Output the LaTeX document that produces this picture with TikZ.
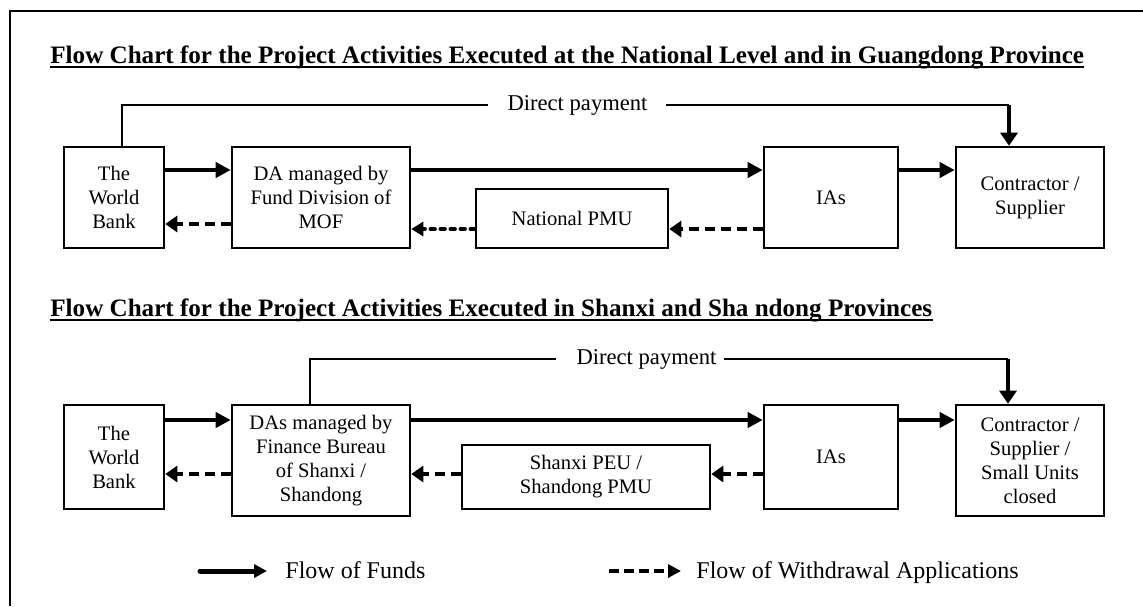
\documentclass[tikz,border=0pt]{standalone}
\usepackage{fontspec}
\setmainfont{Liberation Serif}
\usetikzlibrary{arrows.meta}

\begin{document}
\begin{tikzpicture}[x=0.5pt,y=-0.5pt,
    box/.style={draw,line width=1.3pt,align=center,inner sep=2pt,
      font=\fontsize{10.3}{12}\selectfont},
    fund/.style={line width=2pt,-{Triangle[length=7.5pt,width=7.5pt]}},
    drop/.style={line width=2pt,-{Triangle[length=6.5pt,width=8.5pt]}},
    wdraw/.style={line width=2pt,dash pattern=on 5pt off 3pt,
      -{Triangle[length=6pt,width=8pt]}},
    dotdraw/.style={line width=2.2pt,dash pattern=on 2pt off 3pt,line cap=round,
      -{Triangle[length=6pt,width=7pt]}},
    pay/.style={line width=1pt},
    paytext/.style={font=\fontsize{11.3}{13}\selectfont,inner sep=0pt},
    heading/.style={font=\bfseries\fontsize{12.55}{14}\selectfont,anchor=base west,inner sep=0pt},
    keytext/.style={font=\fontsize{12}{14}\selectfont,anchor=base west,inner sep=0pt}]
  \useasboundingbox (0,0) rectangle (1143,606);
  \draw[line width=1.3pt] (10,606) -- (10,11) -- (1143,11);

  % national level and Guangdong
  \node[heading] (head1) at (50,63)
    {Flow Chart for the Project Activities Executed at the National Level and in Guangdong Province};
  \draw[line width=1pt] ([yshift=-1.8pt]head1.base west) -- ([yshift=-1.8pt]head1.base east);

  \node[box,minimum width=50pt,minimum height=50.5pt] (wb1) at (114,197.5) {The\\World\\Bank};
  \node[box,minimum width=89pt,minimum height=50.5pt] (da1) at (321,197.5)
    {DA managed by\\Fund Division of\\MOF};
  \node[box,minimum width=96pt,minimum height=29.5pt] (pmu1) at (572,218.5) {National PMU};
  \node[box,minimum width=67pt,minimum height=50.5pt] (ia1) at (831,197.5) {IAs};
  \node[box,minimum width=74pt,minimum height=50.5pt] (cs1) at (1030,197.5)
    {Contractor /\\Supplier};

  \coordinate (fund1) at (0,170);
  \coordinate (back1) at (0,224);
  \coordinate (back1b) at (0,229);
  \draw[fund] (wb1.east |- fund1) -- (da1.west |- fund1);
  \draw[fund] (da1.east |- fund1) -- (ia1.west |- fund1);
  \draw[fund] (ia1.east |- fund1) -- (cs1.west |- fund1);
  \draw[wdraw] (da1.west |- back1) -- (wb1.east |- back1);
  \draw[dotdraw] (pmu1.west |- back1b) -- (da1.east |- back1b);
  \draw[wdraw] (ia1.west |- back1b) -- (pmu1.east |- back1b);

  \node[paytext] (pay1) at (577.5,105) {Direct payment};
  \coordinate (turn1) at (1009,105);
  \draw[pay] ([xshift=4pt]wb1.north) |- ([xshift=-9.5pt]pay1.west);
  \draw[pay] ([xshift=9pt]pay1.east) -- (turn1);
  \draw[drop] (turn1) -- (turn1 |- cs1.north);

  % Shanxi and Shandong
  \node[heading] (head2) at (50,316)
    {Flow Chart for the Project Activities Executed in Shanxi and Sha ndong Provinces};
  \draw[line width=1pt] ([yshift=-1.8pt]head2.base west) -- ([yshift=-1.8pt]head2.base east);

  \node[box,minimum width=50pt,minimum height=52pt] (wb2) at (114,457) {The\\World\\Bank};
  \node[box,minimum width=89pt,minimum height=55.5pt] (da2) at (321,460.5)
    {DAs managed by\\Finance Bureau\\of Shanxi /\\Shandong};
  \node[box,minimum width=124pt,minimum height=32pt] (peu2) at (586,477)
    {Shanxi PEU /\\Shandong PMU};
  \node[box,minimum width=67pt,minimum height=52pt] (ia2) at (831,457) {IAs};
  \node[box,minimum width=74pt,minimum height=55.5pt] (cs2) at (1030,460.5)
    {Contractor /\\Supplier /\\Small Units\\closed};

  \coordinate (fund2) at (0,420);
  \coordinate (back2) at (0,474);
  \draw[fund] (wb2.east |- fund2) -- (da2.west |- fund2);
  \draw[fund] (da2.east |- fund2) -- (ia2.west |- fund2);
  \draw[fund] (ia2.east |- fund2) -- (cs2.west |- fund2);
  \draw[wdraw] (da2.west |- back2) -- (wb2.east |- back2);
  \draw[wdraw] (peu2.west |- back2) -- (da2.east |- back2);
  \draw[wdraw] (ia2.west |- back2) -- (peu2.east |- back2);

  \node[paytext] (pay2) at (646.5,359) {Direct payment};
  \coordinate (turn2) at (1008,359);
  \draw[pay] ([xshift=-5.5pt]da2.north) |- ([xshift=-10pt]pay2.west);
  \draw[pay] ([xshift=3.5pt]pay2.east) -- (turn2);
  \draw[drop] (turn2) -- (turn2 |- cs2.north);

  % legend
  \coordinate (key1) at (200,571);
  \coordinate (key1e) at (267,571);
  \coordinate (key2) at (609,571);
  \coordinate (key2e) at (681,571);
  \draw[fund,line width=2.5pt,line cap=round,-{Triangle[length=6.5pt,width=6.5pt]}] (key1) -- (key1e);
  \node[keytext] (keyfund) at (285,578) {Flow of Funds};
  \draw[wdraw,dash pattern=on 5pt off 2.5pt,-{Triangle[length=6.5pt,width=6.5pt]}] (key2) -- (key2e);
  \node[keytext] (keyapp) at (696,578) {Flow of Withdrawal Applications};
\end{tikzpicture}
\end{document}
